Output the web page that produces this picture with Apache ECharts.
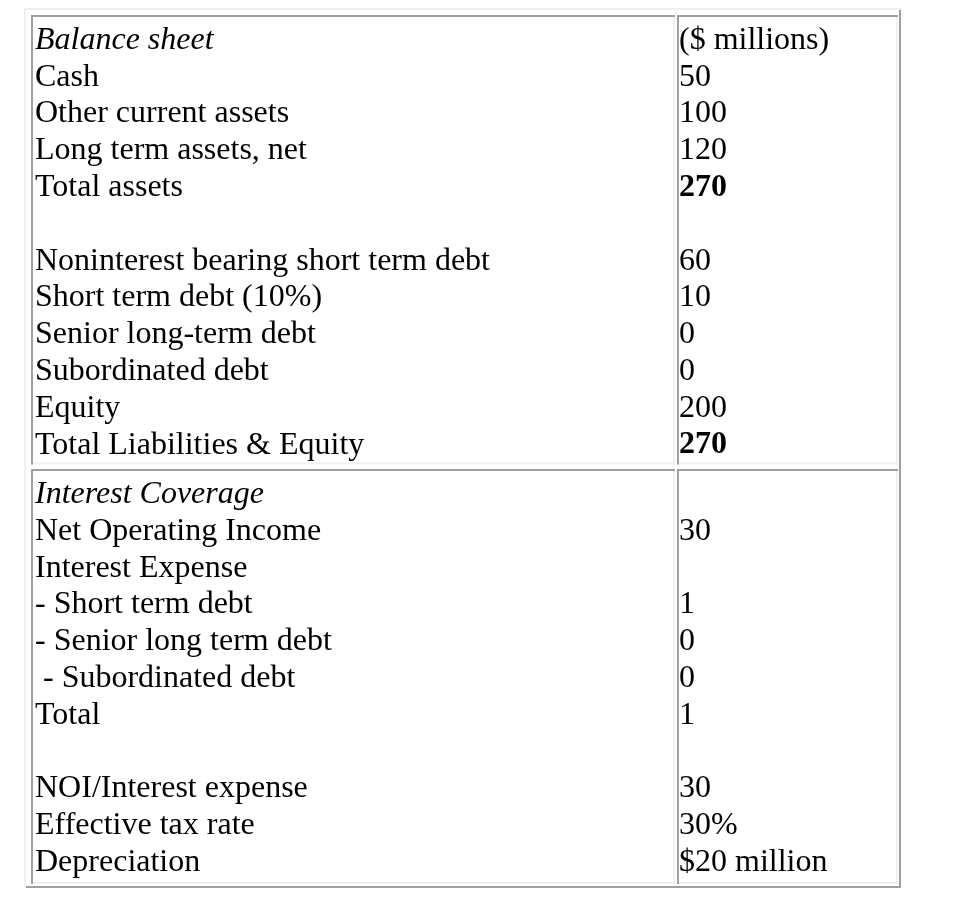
<!DOCTYPE html>
<html>
<head>
<meta charset="utf-8">
<script src="https://cdn.jsdelivr.net/npm/echarts@6/dist/echarts.min.js"></script>
<style>
html,body{margin:0;padding:0;background:#fff;}
#chart{width:974px;height:902px;}
</style>
</head>
<body>
<div id="chart"></div>
<script>
// ---- data ----
const balanceLabels = ['Balance sheet', 'Cash', 'Other current assets', 'Long term assets, net', 'Total assets', '',
  'Noninterest bearing short term debt', 'Short term debt (10%)', 'Senior long-term debt', 'Subordinated debt',
  'Equity', 'Total Liabilities & Equity'];
const balanceValues = ['($ millions)', '50', '100', '120', '270', '', '60', '10', '0', '0', '200', '270'];
const coverageLabels = ['Interest Coverage', 'Net Operating Income', 'Interest Expense', '- Short term debt',
  '- Senior long term debt', ' - Subordinated debt', 'Total', '', 'NOI/Interest expense', 'Effective tax rate',
  'Depreciation'];
const coverageValues = ['', '30', '', '1', '0', '0', '1', '', '30', '30%', '$20 million'];

// ---- layout / style (not data) ----
const sections = [
  { labels: balanceLabels, values: balanceValues, start: 0, padBottom: 5, italic: [0], boldValues: [4, 11] },
  { labels: coverageLabels, values: coverageValues, start: 12.34, padBottom: 7, italic: [0], boldValues: [] }
];
const LINE_H = 36.8;
const TEXT_DY = 4;
const FONT_FAMILY = '"Liberation Serif", "Times New Roman", Times, serif';
const FONT_SIZE = 32;
const DARK = '#a0a0a0', LIGHT = '#f0f0f0';
const colEdges = [[7, 651], [653, 874]];   // x-axis units, relative to table left
const textPad = [4, 2];
const BW = 2;

const chart = echarts.init(document.getElementById('chart'), null, { renderer: 'canvas' });

function bevel(x0, y0, x1, y1, tl, br) {
  const w = x1 - x0, h = y1 - y0;
  return [
    { type: 'rect', shape: { x: x1 - BW, y: y0, width: BW, height: h }, style: { fill: br } },
    { type: 'rect', shape: { x: x0, y: y1 - BW, width: w, height: BW }, style: { fill: br } },
    { type: 'rect', shape: { x: x0, y: y0, width: w, height: BW }, style: { fill: tl } },
    { type: 'rect', shape: { x: x0, y: y0, width: BW, height: h }, style: { fill: tl } }
  ];
}

const cellData = [];
sections.forEach((s, si) => { cellData.push([si, 0]); cellData.push([si, 1]); });
cellData.unshift([-1, -1]); // frame

function renderItem(params, api) {
  const si = api.value(0), ci = api.value(1);
  if (si < 0) {
    const first = sections[0], last = sections[sections.length - 1];
    const top = api.coord([0, first.start])[1] - 10;
    const bot = api.coord([0, last.start + last.labels.length])[1] + last.padBottom + 4;
    const left = api.coord([0, 0])[0];
    const right = api.coord([877, 0])[0];
    return { type: 'group', children: bevel(left, top, right, bot, LIGHT, DARK) };
  }
  const s = sections[si];
  const lines = ci === 0 ? s.labels : s.values;
  const x0 = api.coord([colEdges[ci][0], 0])[0];
  const x1 = api.coord([colEdges[ci][1], 0])[0];
  const y0 = api.coord([0, s.start])[1] - 3;
  const y1 = api.coord([0, s.start + s.labels.length])[1] + s.padBottom;
  const children = bevel(x0, y0, x1, y1, DARK, LIGHT);
  lines.forEach((t, k) => {
    if (!t) return;
    const p = api.coord([colEdges[ci][0], s.start + k]);
    const italic = ci === 0 && s.italic.indexOf(k) >= 0;
    const bold = ci === 1 && s.boldValues.indexOf(k) >= 0;
    children.push({
      type: 'text',
      style: {
        text: t,
        x: p[0] + textPad[ci],
        y: p[1] + TEXT_DY,
        fill: '#000',
        fontFamily: FONT_FAMILY,
        fontSize: FONT_SIZE,
        fontStyle: italic ? 'italic' : 'normal',
        fontWeight: bold ? 'bold' : 'normal',
        lineHeight: LINE_H,
        verticalAlign: 'top',
        align: 'left'
      }
    });
  });
  return { type: 'group', children };
}

chart.setOption({
  animation: false,
  backgroundColor: '#fff',
  grid: { left: 24, right: 73, top: 18, bottom: 902 - 18 - 23.5 * LINE_H },
  xAxis: { type: 'value', min: 0, max: 877, show: false },
  yAxis: { type: 'value', min: 0, max: 23.5, inverse: true, show: false },
  series: [{
    type: 'custom',
    coordinateSystem: 'cartesian2d',
    renderItem: renderItem,
    clip: false,
    data: cellData
  }]
});
</script>
</body>
</html>
